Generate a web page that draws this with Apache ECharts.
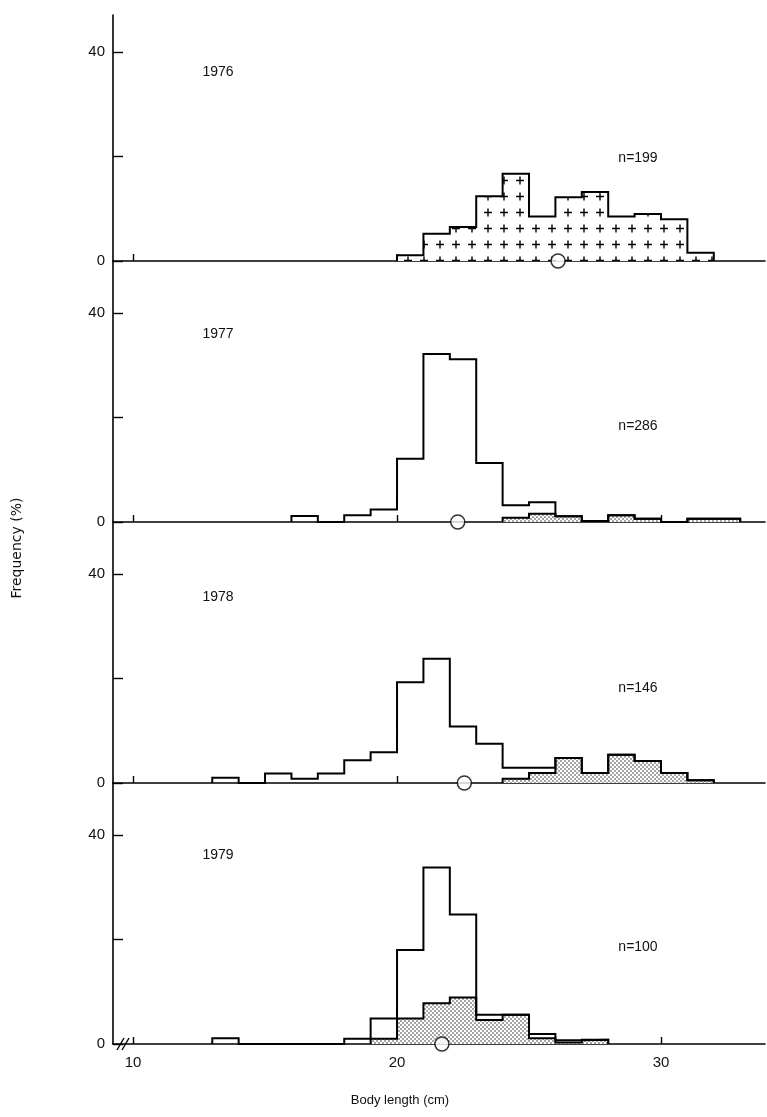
<!DOCTYPE html>
<html><head><meta charset="utf-8">
<script src="https://cdn.jsdelivr.net/npm/echarts@6/dist/echarts.min.js"></script>
<style>html,body{margin:0;padding:0;background:#fff}#c{width:767px;height:1117px}</style>
</head><body><div id="c"></div>
<script>
// ---- data ----
const years = ['1976', '1977', '1978', '1979'];
const sampleSizes = ['n=199', 'n=286', 'n=146', 'n=100'];
const means = [26.1, 22.3, 22.55, 21.7];               // open circles (cm)
const xTicks = [10, 20, 30];
const yTicks = [0, 20, 40];
const yLabels = [0, 40];
// total distributions: 1-cm classes, first class lower bound
const totalStart = [20, 16, 13, 13];
const total1976 = [1.1, 5.2, 6.5, 12.4, 16.7, 8.5, 12.2, 13.2, 8.5, 9.0, 8.0, 1.6];
const total1977 = [1.15, 0, 1.3, 2.4, 12.1, 32.2, 31.2, 11.3, 3.2, 3.8, 1.1, 0.2, 1.3, 0.6, 0, 0.6, 0.6];
const total1978 = [1.0, 0, 1.8, 0.8, 1.8, 4.35, 5.9, 19.3, 23.8, 10.8, 7.5, 2.9, 2.9, 4.8, 1.9, 5.4, 4.2, 1.9, 0.55];
const total1979 = [1.1, 0, 0, 0, 0, 1.0, 4.9, 18.0, 33.8, 24.8, 5.6, 5.6, 1.9, 0.7, 0.8];
// stippled part
const stippleStart = [null, 24, 24, 19];
const stipple1977 = [0.8, 1.6, 1.1, 0.2, 1.3, 0.6, 0, 0.6, 0.6];
const stipple1978 = [0.8, 1.9, 4.8, 1.9, 5.4, 4.2, 1.9, 0.55];
const stipple1979 = [1.0, 4.9, 7.8, 8.9, 4.6, 5.6, 1.1, 0.3, 0.8];

const totals = [total1976, total1977, total1978, total1979];
const stipples = [null, stipple1977, stipple1978, stipple1979];

// ---- patterns ----
function crossPattern() {
  const c = document.createElement('canvas'); c.width = 16; c.height = 16;
  const g = c.getContext('2d');
  g.fillStyle = '#fff'; g.fillRect(0, 0, 16, 16);
  g.strokeStyle = '#000'; g.lineWidth = 1.4;
  g.beginPath(); g.moveTo(4, 4.5); g.lineTo(12, 4.5); g.moveTo(8, 0.5); g.lineTo(8, 8.5); g.stroke();
  return c;
}
function stipplePattern() {
  const c = document.createElement('canvas'); c.width = 4; c.height = 4;
  const g = c.getContext('2d');
  g.fillStyle = '#fff'; g.fillRect(0, 0, 4, 4);
  g.fillStyle = '#222';
  g.beginPath(); g.arc(1, 1, 0.75, 0, Math.PI * 2); g.fill();
  g.beginPath(); g.arc(3, 3, 0.75, 0, Math.PI * 2); g.fill();
  return c;
}
const crossFill = { image: crossPattern(), repeat: 'repeat' };
const stippleFill = { image: stipplePattern(), repeat: 'repeat' };

function stepData(start, vals) {
  const d = [[start, 0]];
  vals.forEach((v, i) => d.push([start + i, v]));
  d.push([start + vals.length, 0]);
  return d;
}

// ---- layout ----
const panelTop = [15, 261, 522, 783];
const panelH = [246, 261, 261, 261];
const yMax = [47.1, 50, 50, 50];
const FONT = '"Liberation Sans", Arial, sans-serif';

const grid = [], xAxis = [], yAxis = [], series = [];
for (let i = 0; i < 4; i++) {
  grid.push({ left: 113, right: 2, top: panelTop[i], height: panelH[i] });
  xAxis.push({
    type: 'value', gridIndex: i, min: 9.24, max: 33.94,
    axisLine: { show: true, lineStyle: { color: '#000', width: 1.6 } },
    axisTick: { show: true, inside: true, length: 7, customValues: xTicks, lineStyle: { color: '#000', width: 1.4 } },
    axisLabel: { show: i === 3, customValues: xTicks, margin: 11, fontSize: 15, color: '#111', fontFamily: FONT },
    splitLine: { show: false }
  });
  yAxis.push({
    type: 'value', gridIndex: i, min: 0, max: yMax[i],
    axisLine: { show: true, lineStyle: { color: '#000', width: 1.6 } },
    axisTick: { show: true, inside: true, length: 10, customValues: yTicks, lineStyle: { color: '#000', width: 1.4 } },
    axisLabel: { show: true, customValues: yLabels, margin: 8, fontSize: 15, color: '#111', fontFamily: FONT },
    splitLine: { show: false }
  });
  if (stipples[i]) {
    series.push({
      type: 'line', xAxisIndex: i, yAxisIndex: i, step: 'end', symbol: 'none', z: 2,
      data: stepData(stippleStart[i], stipples[i]),
      lineStyle: { color: '#000', width: 2, join: 'miter' },
      areaStyle: { color: stippleFill, opacity: 1 }
    });
  }
  series.push({
    type: 'line', xAxisIndex: i, yAxisIndex: i, step: 'end', symbol: 'none', z: 3,
    data: stepData(totalStart[i], totals[i]),
    lineStyle: { color: '#000', width: 2, join: 'miter' },
    areaStyle: i === 0 ? { color: crossFill, opacity: 1 } : null
  });
  series.push({
    type: 'scatter', xAxisIndex: i, yAxisIndex: i, z: 6, clip: false,
    symbol: 'circle', symbolSize: 14,
    data: [[means[i], 0]],
    itemStyle: { color: '#fff', borderColor: '#000', borderWidth: 1.5 }
  });
}

const yearY = [72, 334, 597, 855];
const nY = [158, 426, 688, 947];
const graphic = [];
const centered = { align: 'center', verticalAlign: 'middle', textAlign: 'center', textVerticalAlign: 'middle', fill: '#111' };
for (let i = 0; i < 4; i++) {
  graphic.push({ type: 'text', x: 218, y: yearY[i], style: Object.assign({ text: years[i], font: '14px ' + FONT }, centered) });
  graphic.push({ type: 'text', x: 638, y: nY[i], style: Object.assign({ text: sampleSizes[i], font: '14px ' + FONT }, centered) });
}
graphic.push({ type: 'text', x: 17, y: 548, rotation: Math.PI / 2, style: Object.assign({ text: 'Frequency (%)', font: '14px "DejaVu Sans", sans-serif' }, centered) });
graphic.push({ type: 'text', x: 400, y: 1100, style: Object.assign({ text: 'Body length (cm)', font: '13px ' + FONT }, centered) });
// axis break mark
graphic.push({ type: 'line', shape: { x1: 117, y1: 1050, x2: 124, y2: 1038 }, style: { stroke: '#000', lineWidth: 1.4 }, z: 10 });
graphic.push({ type: 'line', shape: { x1: 122, y1: 1050, x2: 129, y2: 1038 }, style: { stroke: '#000', lineWidth: 1.4 }, z: 10 });

const chart = echarts.init(document.getElementById('c'), null, { renderer: 'canvas' });
chart.setOption({ animation: false, backgroundColor: '#fff', grid, xAxis, yAxis, series, graphic });
</script></body></html>
